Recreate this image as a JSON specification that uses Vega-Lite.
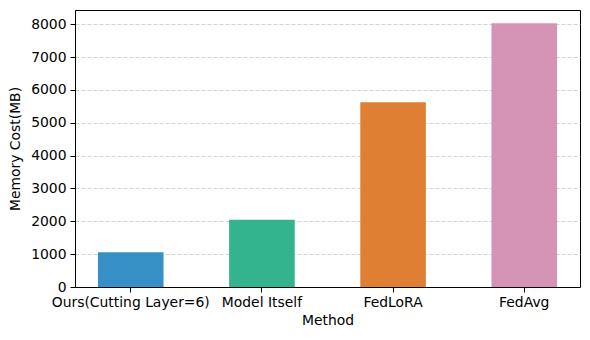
{
  "$schema": "https://vega.github.io/schema/vega-lite/v6.json",
  "width": 505,
  "height": 277,
  "autosize": {"type": "none"},
  "padding": {"left": 75, "top": 10, "right": 10, "bottom": 53},
  "background": "white",
  "config": {
    "font": "DejaVu Sans",
    "view": {"stroke": "black", "strokeWidth": 1},
    "axis": {
      "labelFont": "DejaVu Sans",
      "titleFont": "DejaVu Sans",
      "labelFontSize": 13.9,
      "titleFontSize": 13.9,
      "titleFontWeight": "normal",
      "labelColor": "black",
      "titleColor": "black",
      "domainColor": "black",
      "tickColor": "black",
      "tickSize": 5
    }
  },
  "data": {
    "values": [
      {"method": "Ours(Cutting Layer=6)", "memory": 1055},
      {"method": "Model Itself", "memory": 2050},
      {"method": "FedLoRA", "memory": 5625},
      {"method": "FedAvg", "memory": 8030}
    ]
  },
  "mark": {"type": "bar"},
  "encoding": {
    "x": {
      "field": "method",
      "type": "nominal",
      "sort": null,
      "scale": {"paddingInner": 0.5, "paddingOuter": 0.175},
      "axis": {"title": "Method", "labelAngle": 0, "labelPadding": 3, "titlePadding": 5, "grid": false}
    },
    "y": {
      "field": "memory",
      "type": "quantitative",
      "scale": {"domain": [0, 8435], "nice": false},
      "axis": {
        "title": "Memory Cost(MB)",
        "values": [0, 1000, 2000, 3000, 4000, 5000, 6000, 7000, 8000],
        "format": "d",
        "labelPadding": 4,
        "titlePadding": 8,
        "grid": true,
        "gridColor": "#c8c8c8",
        "gridDash": [4, 2],
        "gridWidth": 0.8
      }
    },
    "color": {
      "field": "method",
      "type": "nominal",
      "sort": null,
      "scale": {
        "domain": ["Ours(Cutting Layer=6)", "Model Itself", "FedLoRA", "FedAvg"],
        "range": ["#3690c5", "#34b38f", "#df7f34", "#d594b6"]
      },
      "legend": null
    }
  }
}
